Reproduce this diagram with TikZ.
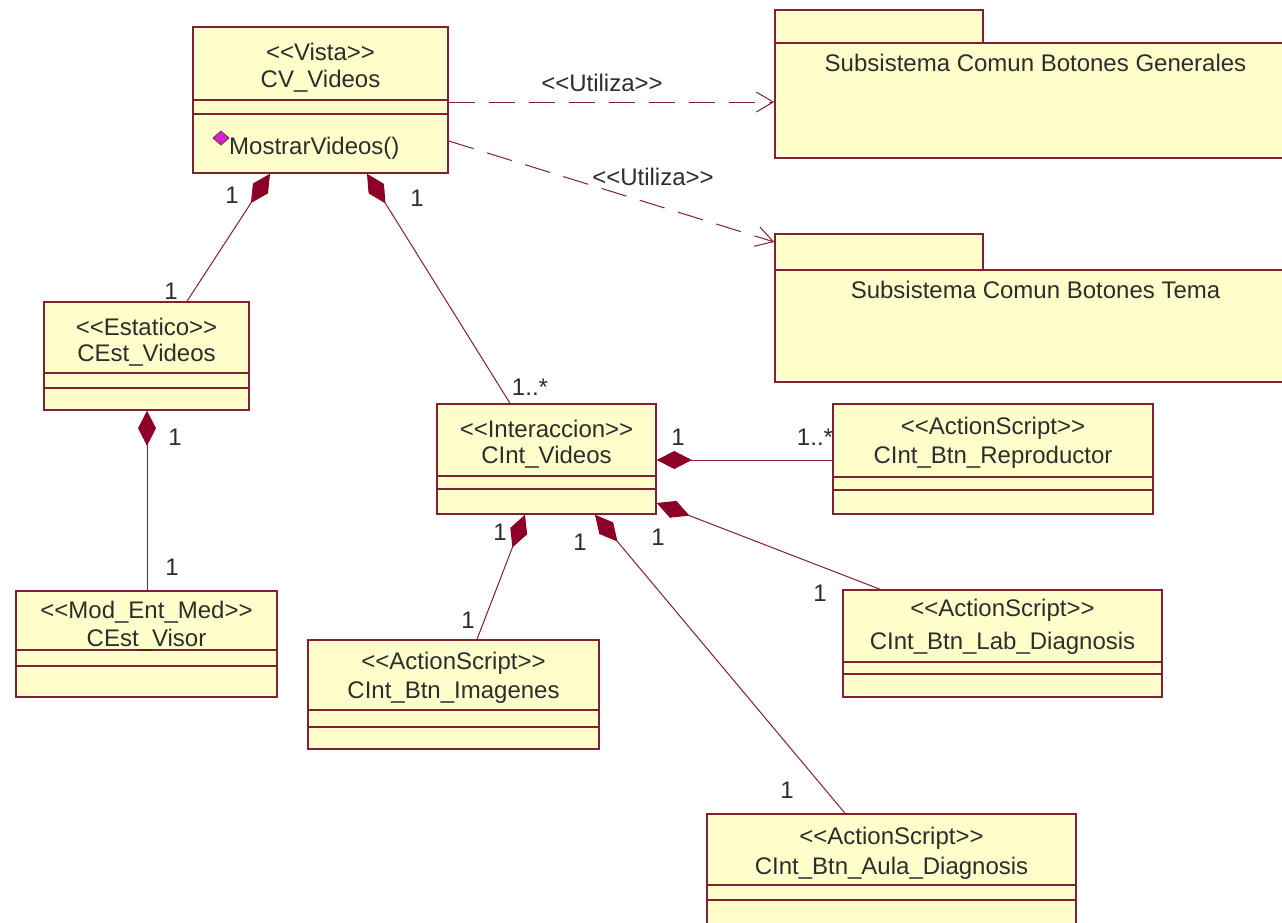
\documentclass[tikz,border=0pt]{standalone}
\usepackage{fontspec}
\setmainfont{Liberation Sans}
\usetikzlibrary{arrows.meta,fit,calc}

\definecolor{umlfill}{RGB}{255,255,204}
\definecolor{umlline}{RGB}{128,32,48}
\definecolor{umlcomp}{RGB}{140,0,40}
\definecolor{umltext}{RGB}{45,45,45}
\definecolor{opicon}{RGB}{205,40,205}

% #1 name, #2 top-left, #3 bottom-right, #4/#5 compartment lines,
% #6/#7 text rows, #8 stereotype, #9 class name
\newcommand\umlclass[9]{%
  \coordinate (#1-nw) at (#2);
  \coordinate (#1-se) at (#3);
  \node[classbox, fit=(#1-nw)(#1-se)] (#1) {};
  \draw[boxline] (#1.west |- 0,#4) -- (#1.east |- 0,#4)
                 (#1.west |- 0,#5) -- (#1.east |- 0,#5);
  \node (#1-st) at (#1.north |- 0,#6) {<{}<#8>{}>};
  \node (#1-nm) at (#1.north |- 0,#7) {#9};
}

\begin{document}
\begin{tikzpicture}[x=1pt,y=-1pt,
  every node/.style={font=\fontsize{24}{28}\selectfont, text=umltext, inner sep=0pt},
  classbox/.style={draw=umlline, line width=1.5pt, fill=umlfill, inner sep=0pt},
  boxline/.style={draw=umlline, line width=1.5pt},
  comp/.style={draw=umlline, line width=1pt,
    -{Diamond[length=35pt, width=18pt, fill=umlcomp, color=umlcomp]}},
  dep/.style={draw=umlline, line width=1pt, dash pattern=on 26pt off 14pt,
    -{Straight Barb[length=17pt, width=20pt, line width=1pt]}},
  mult/.style={text=umltext}]

\fill[white] (0,0) rectangle (1282,922);
\useasboundingbox (0,0) rectangle (1282,922);
\clip (0,0) rectangle (1282,922);

% packages
\coordinate (pg1tab-nw) at (775,10);  \coordinate (pg1tab-se) at (983,43);
\coordinate (pg1-nw) at (775,43);     \coordinate (pg1-se) at (1296,158);
\node[classbox, fit=(pg1tab-nw)(pg1tab-se)] (pg1tab) {};
\node[classbox, fit=(pg1-nw)(pg1-se)] (pg1) {};
\node (pg1-nm) at (pg1.north |- 0,63) {Subsistema Comun Botones Generales};

\coordinate (pg2tab-nw) at (775,234); \coordinate (pg2tab-se) at (983,270);
\coordinate (pg2-nw) at (775,270);    \coordinate (pg2-se) at (1296,382);
\node[classbox, fit=(pg2tab-nw)(pg2tab-se)] (pg2tab) {};
\node[classbox, fit=(pg2-nw)(pg2-se)] (pg2) {};
\node (pg2-nm) at (pg2.north |- 0,290) {Subsistema Comun Botones Tema};

% classes
\umlclass{cv}{193,27}{448,173}{100}{114}{52}{81}{Vista}{CV\_Videos}
\draw[fill=opicon, draw=umlline, line width=0.7pt]
  (213,138) -- (221,131) -- (229,138) -- (221,145) -- cycle;
\node[anchor=west] (cv-op) at (229,148) {MostrarVideos()};

\umlclass{cest}{44,302}{249,410}{373}{388}{327}{355}{Estatico}{CEst\_Videos}
\umlclass{visor}{16,591}{277,697}{650}{666}{612}{640}{Mod\_Ent\_Med}{CEst\_Visor}
\umlclass{cint}{437,404}{656,514}{476}{489}{429}{457}{Interaccion}{CInt\_Videos}
\umlclass{repro}{833,404}{1153,514}{477}{490}{428}{457}{ActionScript}{CInt\_Btn\_Reproductor}
\umlclass{lab}{843,590}{1162,697}{662}{674}{610}{643}{ActionScript}{CInt\_Btn\_Lab\_Diagnosis}
\umlclass{imag}{308,640}{599,749}{710}{727}{663}{693}{ActionScript}{CInt\_Btn\_Imagenes}
\umlclass{aula}{707,814}{1076,940}{885}{900}{838}{868}{ActionScript}{CInt\_Btn\_Aula\_Diagnosis}

% dependencies
\draw[dep] (cv.east |- 0,102) -- (pg1.west |- 0,102);
\node (dep1-lb) at (602,83) {<{}<Utiliza>{}>};
\draw[dep] (cv.east |- 0,141) -- (pg2tab.west |- 0,242);
\node (dep2-lb) at (653,177) {<{}<Utiliza>{}>};

% compositions (diamond at the whole)
\draw[comp] (cest.north west -| 187,0) -- (cv.south west -| 270,0);
\node[mult] at (232,195) {1};
\node[mult] at (171,291) {1};

\draw[comp] (cint.north west -| 510,0) -- (cv.south west -| 367,0);
\node[mult] at (417,198) {1};
\node[mult] at (530,387) {1..*};

\draw[comp] (visor.north west -| 147,0) -- (cest.south west -| 147,0);
\node[mult] at (175,437) {1};
\node[mult] at (172,567) {1};

\draw[comp] (repro.west |- 0,460) -- (cint.east |- 0,460);
\node[mult] at (678,437) {1};
\node[mult] at (815,437) {1..*};

\draw[comp] (lab.north west -| 880,0) -- (cint.east |- 0,503);
\node[mult] at (658,537) {1};
\node[mult] at (820,593) {1};

\draw[comp] (imag.north west -| 477,0) -- (cint.south west -| 525,0);
\node[mult] at (500,532) {1};
\node[mult] at (468,620) {1};

\draw[comp] (aula.north west -| 845,0) -- (cint.south west -| 595,0);
\node[mult] at (580,542) {1};
\node[mult] at (787,790) {1};

\end{tikzpicture}
\end{document}
